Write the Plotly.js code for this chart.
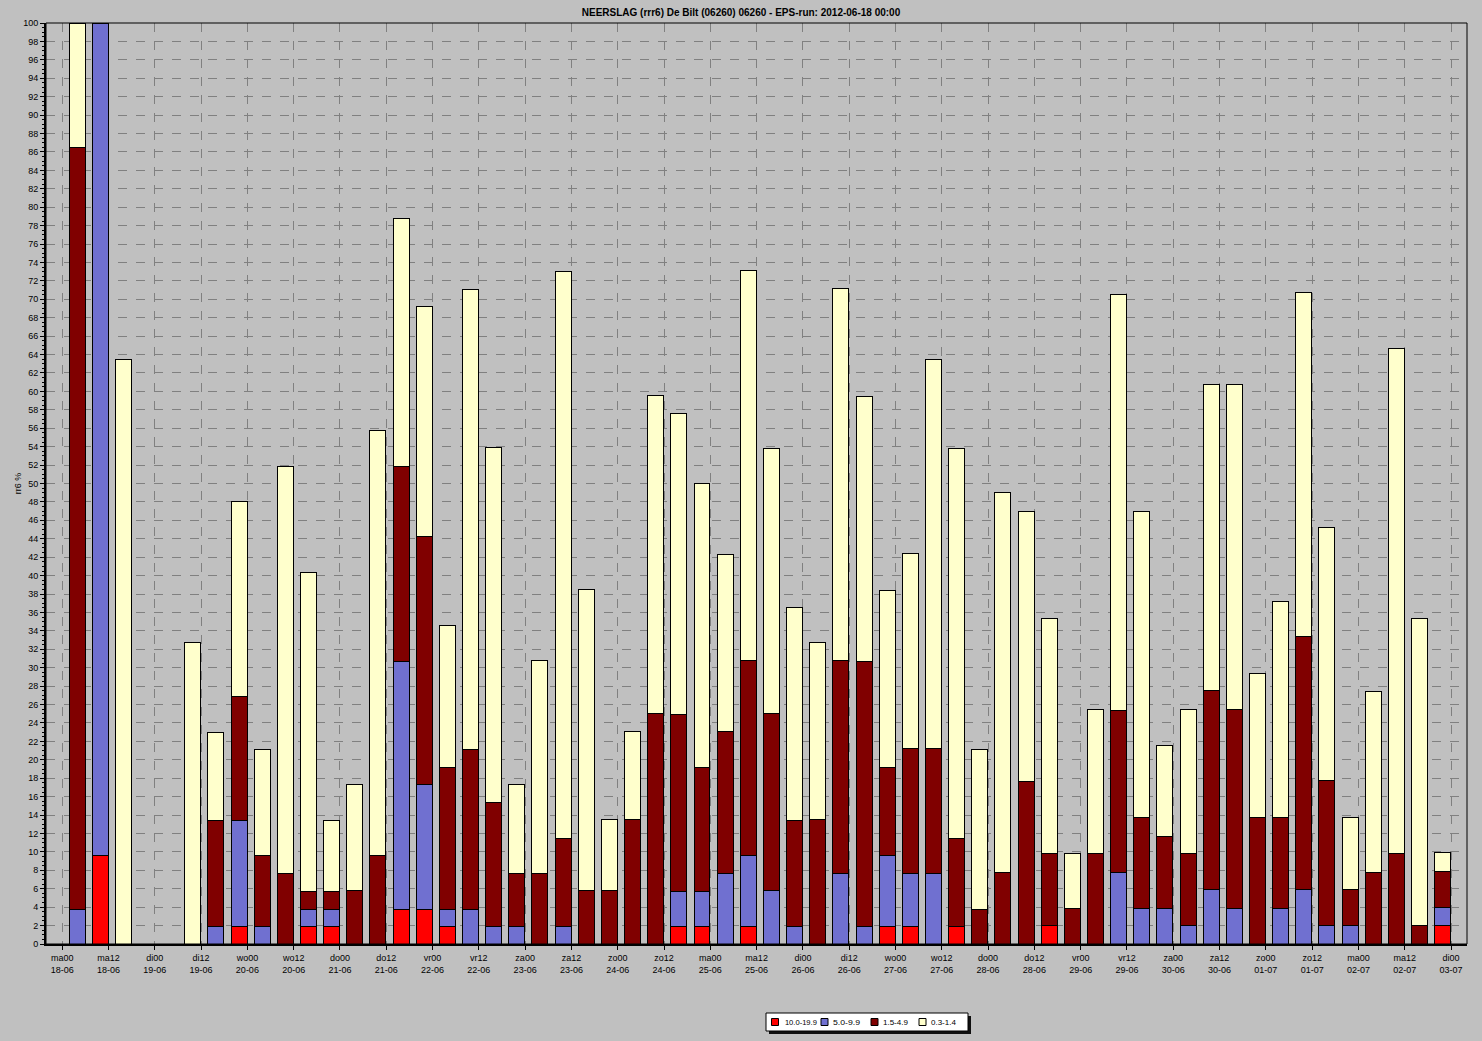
<!DOCTYPE html>
<html><head><meta charset="utf-8">
<script src="https://cdn.plot.ly/plotly-3.0.1.min.js"></script>
<style>html,body{margin:0;padding:0;background:#c0c0c0;}#chart{width:1482px;height:1041px;}</style>
</head><body><div id="chart"></div>
<script>
// ---- data (percent of ensemble members per 6-hour period) ----
const tickLabels = [
  'ma00<br>18-06','ma12<br>18-06','di00<br>19-06','di12<br>19-06','wo00<br>20-06','wo12<br>20-06',
  'do00<br>21-06','do12<br>21-06','vr00<br>22-06','vr12<br>22-06','za00<br>23-06','za12<br>23-06',
  'zo00<br>24-06','zo12<br>24-06','ma00<br>25-06','ma12<br>25-06','di00<br>26-06','di12<br>26-06',
  'wo00<br>27-06','wo12<br>27-06','do00<br>28-06','do12<br>28-06','vr00<br>29-06','vr12<br>29-06',
  'za00<br>30-06','za12<br>30-06','zo00<br>01-07','zo12<br>01-07','ma00<br>02-07','ma12<br>02-07',
  'di00<br>03-07'
];
const seriesNames = ['10.0-19.9', '5.0-9.9', '1.5-4.9', '0.3-1.4'];
const red = [
  0, 9.6, 0, 0, 0, 0, 0, 1.9, 0, 0, 1.9, 1.9, 0, 0, 3.8, 3.8, 1.9, 0, 0, 0,
  0, 0, 0, 0, 0, 0, 1.9, 1.9, 0, 1.9, 0, 0, 0, 0, 0, 1.9, 1.9, 0, 1.9, 0,
  0, 0, 2.0, 0, 0, 0, 0, 0, 0, 0, 0, 0, 0, 0, 0, 0, 0, 0, 0, 2.0
];
const blue = [
  3.8, 90.4, 0, 0, 0, 0, 1.9, 11.5, 1.9, 0, 1.9, 1.9, 0, 0, 26.9, 13.5, 1.9, 3.8, 1.9, 1.9,
  0, 1.9, 0, 0, 0, 0, 3.8, 3.8, 7.7, 7.7, 5.8, 1.9, 0, 7.7, 1.9, 7.7, 5.8, 7.7, 0, 0,
  0, 0, 0, 0, 0, 7.8, 3.9, 3.9, 2.0, 5.9, 3.9, 0, 3.9, 5.9, 2.0, 2.0, 0, 0, 0, 2.0
];
const darkRed = [
  82.7, 0, 0, 0, 0, 0, 11.5, 13.5, 7.7, 7.7, 1.9, 1.9, 5.8, 9.6, 21.2, 26.9, 15.4, 17.3, 13.5, 5.8,
  7.7, 9.6, 5.8, 5.8, 13.5, 25.0, 19.2, 13.5, 15.4, 21.2, 19.2, 11.5, 13.5, 23.1, 28.8, 9.6, 13.5, 13.5, 9.6, 3.8,
  7.8, 17.6, 7.8, 3.9, 9.8, 17.6, 9.8, 7.8, 7.8, 21.6, 21.6, 13.7, 9.8, 27.5, 15.7, 3.9, 7.8, 9.8, 2.0, 3.9
];
const yellow = [
  13.5, 0, 63.5, 0, 0, 32.7, 9.6, 21.2, 11.5, 44.2, 34.6, 7.7, 11.5, 46.2, 26.9, 25.0, 15.4, 50.0, 38.5, 9.6,
  23.1, 61.5, 32.7, 7.7, 9.6, 34.6, 32.7, 30.8, 19.2, 42.3, 28.8, 23.1, 19.2, 40.4, 28.8, 19.2, 21.2, 42.3, 42.3, 17.3,
  41.2, 29.4, 25.5, 5.9, 15.7, 45.1, 33.3, 9.8, 15.7, 33.3, 35.3, 15.7, 23.5, 37.3, 27.5, 7.8, 19.6, 54.9, 33.3, 2.0
];

// ---- styling / layout ----
const colors = ['#ff0000', '#7070d0', '#800000', '#ffffcc'];
const FONT = 'Liberation Sans, Arial, sans-serif';
const L = 46, R = 15, T = 23, B = 97, W = 1482, H = 1041;
const PW = W - L - R, PH = H - T - B;
const px2x = p => (p - L) / PW;
const py2y = p => (H - B - p) / PH;

const series = [red, blue, darkRed, yellow];
const xs = red.map((_, k) => k + 0.64);
const traces = series.map((vals, i) => ({
  type: 'bar',
  name: seriesNames[i],
  x: xs,
  y: vals.map(v => (v > 0 ? v : null)),
  width: 0.69,
  marker: {color: colors[i], line: {color: '#000', width: 1}},
  showlegend: false,
  hoverinfo: 'y+name'
}));

const tickVals = tickLabels.map((_, i) => i * 2);

// custom legend (box with shadow, small squares, real text)
const legCenters = [775, 824.5, 874.5, 922.5];
const legTextX = [783, 833, 882, 930];
const legTextW = [32, 27, 25, 25];
const legY = 1022;
const shapes = [
  {type: 'rect', xref: 'paper', yref: 'paper', x0: 0, x1: 1, y0: 0, y1: 1,
   line: {color: '#000', width: 1}, fillcolor: 'rgba(0,0,0,0)', layer: 'above'},
  {type: 'rect', xref: 'paper', yref: 'paper', x0: px2x(769), x1: px2x(971), y0: py2y(1034), y1: py2y(1016),
   line: {width: 0}, fillcolor: '#101010'},
  {type: 'rect', xref: 'paper', yref: 'paper', x0: px2x(766), x1: px2x(968), y0: py2y(1031), y1: py2y(1013),
   line: {color: '#000', width: 1}, fillcolor: '#ffffff'}
];
legCenters.forEach((c, i) => {
  shapes.push({type: 'rect', xref: 'paper', yref: 'paper',
    x0: px2x(c - 3.5), x1: px2x(c + 3.5), y0: py2y(legY + 3.5), y1: py2y(legY - 3.5),
    line: {color: '#000', width: 1}, fillcolor: colors[i]});
});
const annotations = seriesNames.map((n, i) => ({
  xref: 'paper', yref: 'paper', x: px2x(legTextX[i]), y: py2y(legY),
  xanchor: 'left', yanchor: 'middle', text: n, showarrow: false, borderpad: 0,
  font: {family: FONT, size: 8, color: '#000'}
}));

const layout = {
  width: W, height: H,
  margin: {l: L, r: R, t: T, b: B, pad: 0},
  paper_bgcolor: '#c0c0c0',
  plot_bgcolor: '#c0c0c0',
  barmode: 'stack',
  bargap: 0,
  font: {family: FONT, size: 9, color: '#000'},
  title: {
    text: '<b>NEERSLAG (rrr6) De Bilt (06260) 06260 - EPS-run: 2012-06-18 00:00</b>',
    font: {family: FONT, size: 10, color: '#000'},
    x: 0.5, xref: 'container', xanchor: 'center',
    y: 1 - 12 / H, yref: 'container', yanchor: 'middle'
  },
  xaxis: {
    range: [-0.70, 60.69],
    tickmode: 'array', tickvals: tickVals, ticktext: tickLabels,
    ticks: 'outside', ticklen: 4, tickcolor: '#000', tickwidth: 1,
    tickfont: {family: FONT, size: 9, color: '#000'},
    tickangle: 0,
    showgrid: true, gridcolor: '#808080', griddash: 'dash', gridwidth: 1,
    showline: true, linecolor: '#000', linewidth: 2,
    zeroline: false, fixedrange: true
  },
  yaxis: {
    range: [0, 100], dtick: 2, tick0: 0,
    ticks: 'outside', ticklen: 4, tickcolor: '#000',
    tickfont: {family: FONT, size: 9, color: '#000'},
    minor: {dtick: 0.5, ticks: 'outside', ticklen: 2, tickcolor: '#000', showgrid: false},
    showgrid: true, gridcolor: '#808080', griddash: 'dash', gridwidth: 1,
    showline: true, linecolor: '#000', linewidth: 2,
    zeroline: false, fixedrange: true,
    title: {text: 'rr6 %', font: {family: FONT, size: 9, color: '#000'}, standoff: 0}
  },
  shapes: shapes,
  annotations: annotations
};

Plotly.newPlot('chart', traces, layout, {displayModeBar: false, staticPlot: true}).then(gd => {
  // condense legend texts to the narrow width used in the original
  gd.querySelectorAll('.annotation-text').forEach(t => {
    const i = seriesNames.indexOf(t.textContent.trim());
    if (i >= 0) {
      t.setAttribute('textLength', legTextW[i]);
      t.setAttribute('lengthAdjust', 'spacingAndGlyphs');
    }
  });
});
</script>
</body></html>
